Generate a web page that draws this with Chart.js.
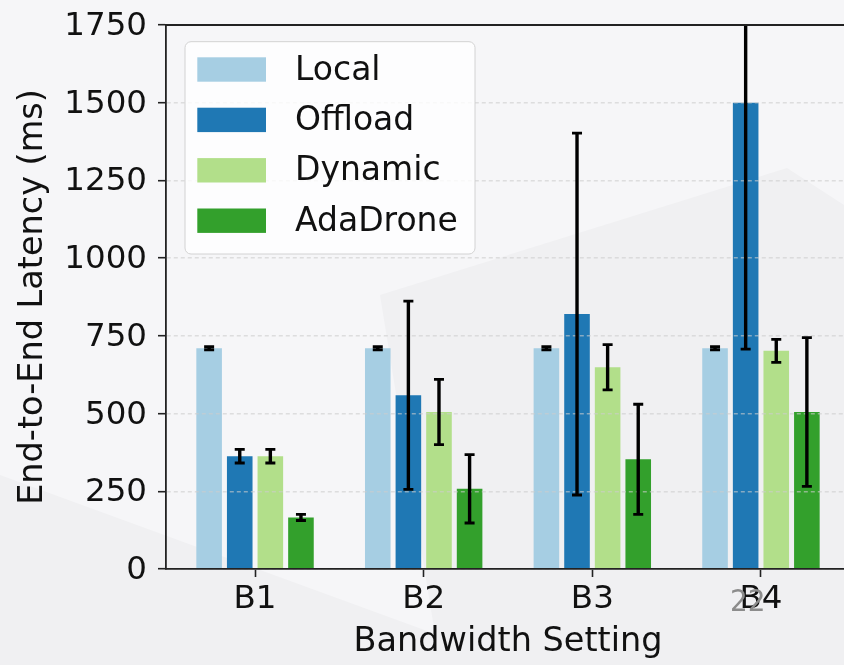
<!DOCTYPE html>
<html>
<head>
<meta charset="utf-8">
<script src="https://cdn.jsdelivr.net/npm/chart.js@4.4.1/dist/chart.umd.min.js"></script>
<style>
  html, body { margin: 0; padding: 0; width: 844px; height: 665px; overflow: hidden; background: #f6f6f8; }
  .shade { position: absolute; left: 0; top: 0; width: 844px; height: 665px; background: #f0f0f2; }
  #shadeRight { clip-path: polygon(380px 295px, 787px 168px, 844px 205px, 844px 665px, 440px 665px); }
  #shadeLeft { clip-path: polygon(0 475px, 520px 665px, 0 665px); }
  #wrap { position: absolute; left: 0; top: 0; width: 870px; height: 665px; }
  #pageNo { position: absolute; left: 730px; top: 585px; font: 31px/31px 'Liberation Sans Narrow', 'DejaVu Sans Condensed', sans-serif; color: #8c8c8c; }
</style>
</head>
<body>
<div class="shade" id="shadeRight"></div>
<div class="shade" id="shadeLeft"></div>
<div id="wrap"><canvas id="chart" width="870" height="665"></canvas></div>
<div id="pageNo">22</div>
<script>
// Bandwidth settings on the x axis
const categories = ['B1', 'B2', 'B3', 'B4'];
const seriesNames = ['Local', 'Offload', 'Dynamic', 'AdaDrone'];

// Mean end-to-end latency (ms) per bandwidth setting
const localMs    = [710, 710, 710, 710];
const offloadMs  = [363, 559, 820, 1500];
const dynamicMs  = [363, 505, 649, 702];
const adaDroneMs = [166, 258, 353, 505];

// Error-bar half widths (ms)
const localErr    = [5, 5, 5, 5];
const offloadErr  = [22, 303, 582, 793];
const dynamicErr  = [22, 105, 73, 37];
const adaDroneErr = [10, 110, 177, 239];

// Y axis ticks
const yTicks = [0, 250, 500, 750, 1000, 1250, 1500, 1750];

const seriesColors = ['#a6cee3', '#1f78b4', '#b2df8a', '#33a02c'];
const seriesValues = [localMs, offloadMs, dynamicMs, adaDroneMs];
const seriesErrors = [localErr, offloadErr, dynamicErr, adaDroneErr];

const FONT = 'DejaVu Sans';

const datasets = seriesNames.map((name, k) => ({
  label: name,
  data: seriesValues[k].map((v, i) => ({ x: i, y: v })),
  errors: seriesErrors[k],
  backgroundColor: seriesColors[k],
  borderWidth: 0,
  categoryPercentage: 0.726,
  barPercentage: 0.836
}));

// Error bars, top/right spines and the framed legend, drawn over the grid
const overlay = {
  id: 'overlay',
  afterDraw(chart) {
    const { ctx, chartArea: ca, scales: { y } } = chart;

    ctx.save();
    ctx.beginPath();
    ctx.rect(ca.left, ca.top, ca.right - ca.left, ca.bottom - ca.top);
    ctx.clip();
    ctx.strokeStyle = '#000';
    chart.data.datasets.forEach((ds, k) => {
      const meta = chart.getDatasetMeta(k);
      meta.data.forEach((bar, i) => {
        const v = ds.data[i].y, e = ds.errors[i];
        const x = bar.x;
        const yHi = y.getPixelForValue(v + e);
        const yLo = y.getPixelForValue(v - e);
        ctx.lineWidth = 3.4;
        ctx.beginPath();
        ctx.moveTo(x, yHi); ctx.lineTo(x, yLo);
        ctx.stroke();
        ctx.lineWidth = 2.8;
        ctx.beginPath();
        ctx.moveTo(x - 5, yHi); ctx.lineTo(x + 5, yHi);
        ctx.moveTo(x - 5, yLo); ctx.lineTo(x + 5, yLo);
        ctx.stroke();
      });
    });
    ctx.restore();

    ctx.save();
    ctx.strokeStyle = '#222';
    ctx.lineWidth = 1.8;
    ctx.beginPath();
    ctx.moveTo(ca.left - 0.9, ca.top);
    ctx.lineTo(ca.right, ca.top);
    ctx.lineTo(ca.right, ca.bottom);
    ctx.stroke();
    ctx.restore();

    const bx = ca.left + 19, by = ca.top + 16.7, bw = 290, bh = 212.3;
    ctx.save();
    ctx.beginPath();
    ctx.roundRect(bx, by, bw, bh, 6);
    ctx.fillStyle = 'rgba(255,255,255,0.8)';
    ctx.fill();
    ctx.strokeStyle = '#d2d2d2';
    ctx.lineWidth = 1;
    ctx.stroke();
    ctx.font = `33px '${FONT}'`;
    ctx.textBaseline = 'middle';
    ctx.textAlign = 'left';
    chart.data.datasets.forEach((ds, k) => {
      const cy = by + 27.8 + 50.4 * k;
      ctx.fillStyle = ds.backgroundColor;
      ctx.fillRect(bx + 12.3, cy - 12.2, 68.7, 24.4);
      ctx.fillStyle = '#111';
      ctx.fillText(ds.label, bx + 110, cy + 1.5);
    });
    ctx.restore();
  }
};

new Chart(document.getElementById('chart'), {
  type: 'bar',
  data: { datasets },
  options: {
    responsive: false,
    animation: false,
    layout: { padding: { top: 25, right: 20, left: 0, bottom: 0 } },
    plugins: { legend: { display: false }, tooltip: { enabled: false } },
    scales: {
      x: {
        type: 'linear',
        offset: false,
        min: -0.528,
        max: 3.528,
        afterBuildTicks: s => { s.ticks = categories.map((c, i) => ({ value: i })); },
        afterFit: s => { s.height = 96; s.paddingLeft = 0; s.paddingRight = 0; },
        ticks: {
          autoSkip: false, maxRotation: 0, padding: 3, color: '#111',
          font: { family: FONT, size: 32.5, lineHeight: 1.2 },
          callback: v => categories[v] ?? ''
        },
        grid: { offset: false, drawOnChartArea: false, drawTicks: true, tickLength: 8, tickColor: '#222', tickWidth: 1.6 },
        border: { display: true, color: '#222', width: 1.8, z: 2 },
        title: {
          display: true, text: 'Bandwidth Setting', color: '#111',
          font: { family: FONT, size: 33.5, lineHeight: 1.2 },
          padding: { top: 0, bottom: 2.6 }
        }
      },
      y: {
        min: 0,
        max: 1750,
        afterBuildTicks: s => { s.ticks = yTicks.map(v => ({ value: v })); },
        afterFit: s => { s.width = 166; s.paddingTop = 0; s.paddingBottom = 0; },
        ticks: {
          padding: 11, color: '#111', labelOffset: 1.5,
          font: { family: FONT, size: 32.5, lineHeight: 1.2 },
          callback: v => String(v)
        },
        grid: { color: 'rgba(205,205,205,0.6)', lineWidth: 1.4, z: 1, tickLength: 8, tickColor: '#222', tickWidth: 1.6 },
        border: { display: true, color: '#222', width: 1.8, dash: [4, 3], z: 1 },
        title: {
          display: true, text: 'End-to-End Latency (ms)', color: '#111',
          font: { family: FONT, size: 33.5, lineHeight: 1.2 },
          padding: { top: 13.2, bottom: 0 }
        }
      }
    }
  },
  plugins: [overlay]
});
</script>
</body>
</html>
